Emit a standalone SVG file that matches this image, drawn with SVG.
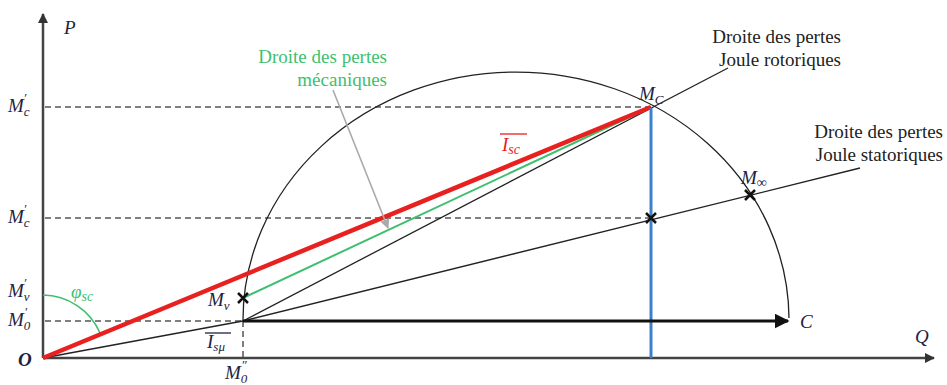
<svg xmlns="http://www.w3.org/2000/svg" width="947" height="385" viewBox="0 0 947 385">
<defs>
<style>
.ax{stroke:#444;stroke-width:2.5;fill:none}
.thin{stroke:#222;stroke-width:1.3;fill:none}
.dash{stroke:#555;stroke-width:1.5;stroke-dasharray:6 4;fill:none}
.cross{stroke:#111;stroke-width:2.5;fill:none}
.m{font-family:"Liberation Serif",serif;font-style:italic;font-size:19px;fill:#1c2340}
.t{font-family:"Liberation Serif",serif;font-size:19px;fill:#222}
.g{font-family:"Liberation Serif",serif;font-size:19px;fill:#3dbf6e}
</style>
<marker id="ah" viewBox="0 0 10 10" refX="9" refY="5" markerWidth="5" markerHeight="5" orient="auto" markerUnits="strokeWidth"><path d="M0,0 L10,5 L0,10 z" fill="#111"/></marker>
<marker id="ahs" viewBox="0 0 10 10" refX="9" refY="5" markerWidth="4" markerHeight="4" orient="auto" markerUnits="strokeWidth"><path d="M0,0 L10,5 L0,10 z" fill="#333"/></marker>
<marker id="ahg" viewBox="0 0 10 10" refX="9" refY="5" markerWidth="6" markerHeight="6" orient="auto" markerUnits="strokeWidth"><path d="M0,0 L10,5 L0,10 z" fill="#aaa"/></marker>
</defs>
<rect width="947" height="385" fill="#fff"/>
<g id="axes">
<line class="ax" x1="43" y1="358" x2="43" y2="14" marker-end="url(#ahs)"/>
<line class="ax" x1="43" y1="358" x2="934" y2="358" marker-end="url(#ahs)"/>
</g>
<g id="connectors">
<line class="dash" x1="45" y1="107" x2="651" y2="107"/>
<line class="dash" x1="45" y1="218" x2="651" y2="218"/>
<line class="dash" x1="45" y1="321" x2="243" y2="321"/>
<line class="dash" x1="243" y1="321" x2="243" y2="358"/>
<path class="thin" d="M243 322 A273 248 0 0 1 789 318"/>
<path d="M43 295 A63 63 0 0 1 100 333" fill="none" stroke="#3dbf6e" stroke-width="1.6"/>
<line class="thin" x1="43" y1="358" x2="243" y2="321"/>
<line class="thin" x1="243" y1="321" x2="728" y2="68"/>
<line class="thin" x1="243" y1="321" x2="860" y2="168"/>
<line x1="243" y1="298" x2="651" y2="107" stroke="#3dbf6e" stroke-width="2"/>
<line x1="43" y1="358" x2="651" y2="107" stroke="#e8201f" stroke-width="4.5"/>
<line x1="651" y1="108" x2="651" y2="358" stroke="#3a80cc" stroke-width="3"/>
<line x1="243" y1="321" x2="788" y2="321" stroke="#111" stroke-width="3" marker-end="url(#ah)"/>
<line x1="333" y1="90" x2="388" y2="228" stroke="#aaa" stroke-width="1.6" marker-end="url(#ahg)"/>
</g>
<g id="crosses">
<path class="cross" d="M238 293 L248 303 M248 293 L238 303"/>
<path class="cross" d="M646 213 L656 223 M656 213 L646 223"/>
<path class="cross" d="M745 190 L755 200 M755 190 L745 200"/>
</g>
<g id="labels">
<text class="m" x="64" y="34" font-size="21">P</text>
<text class="m" x="8" y="112">M<tspan font-size="13" dy="4">c</tspan><tspan font-size="13" dx="-6" dy="-14">′</tspan></text>
<text class="m" x="8" y="223">M<tspan font-size="13" dy="4">c</tspan><tspan font-size="13" dx="-6" dy="-14">′</tspan></text>
<text class="m" x="8" y="297">M<tspan font-size="13" dy="4">v</tspan><tspan font-size="13" dx="-6" dy="-14">′</tspan></text>
<text class="m" x="8" y="326">M<tspan font-size="13" dy="4">0</tspan><tspan font-size="13" dx="-6" dy="-14">′</tspan></text>
<text class="m" x="18" y="366" font-weight="bold" font-size="21">O</text>
<text class="m" x="71" y="298" style="fill:#3dbf6e" font-size="20">φ<tspan font-size="14" dy="3">sc</tspan></text>
<text class="m" x="208" y="306">M<tspan font-size="13" dy="4">v</tspan></text>
<text class="m" x="207" y="348">I<tspan font-size="13" dy="3">sμ</tspan></text>
<line x1="205" y1="333" x2="231" y2="333" stroke="#1c2340" stroke-width="1.3"/>
<text class="m" x="225" y="379">M<tspan font-size="13" dy="4">0</tspan><tspan font-size="13" dx="-6" dy="-14">″</tspan></text>
<text class="m" x="502" y="151" style="fill:#e8201f">I<tspan font-size="14" dy="3">sc</tspan></text>
<line x1="500" y1="134" x2="527" y2="134" stroke="#e8201f" stroke-width="1.3"/>
<text class="m" x="639" y="100">M<tspan font-size="13" dy="4">C</tspan></text>
<text class="m" x="741" y="184">M<tspan font-size="14" dy="3">∞</tspan></text>
<text class="m" x="800" y="328" font-size="20">C</text>
<text class="m" x="915" y="343" font-size="20">Q</text>
<text class="g" text-anchor="end" x="387" y="63">Droite des pertes</text>
<text class="g" text-anchor="end" x="387" y="86">mécaniques</text>
<text class="t" text-anchor="end" x="841" y="43">Droite des pertes</text>
<text class="t" text-anchor="end" x="841" y="66">Joule rotoriques</text>
<text class="t" text-anchor="end" x="943" y="138">Droite des pertes</text>
<text class="t" text-anchor="end" x="943" y="161">Joule statoriques</text>
</g>
</svg>
